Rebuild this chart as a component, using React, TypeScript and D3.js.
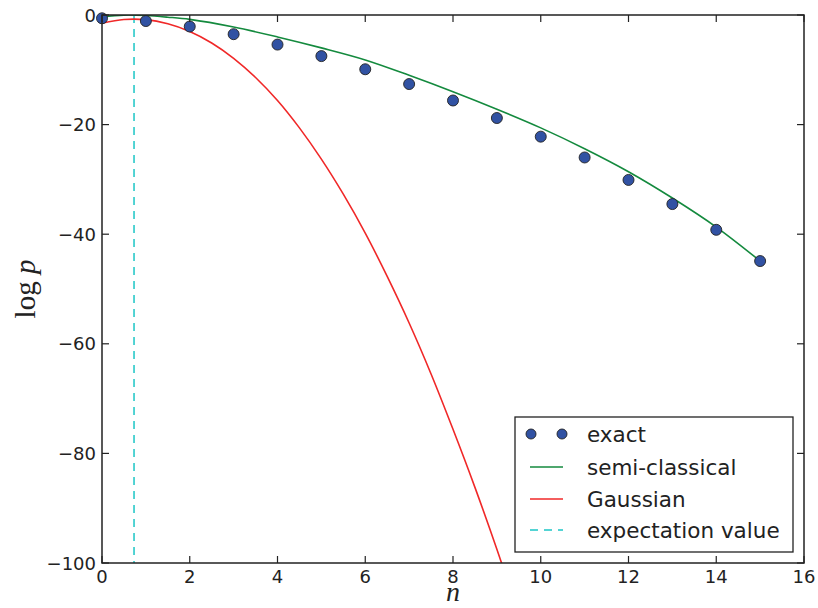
import React from "react";
import * as d3 from "d3";

const exactN = [0, 1, 2, 3, 4, 5, 6, 7, 8, 9, 10, 11, 12, 13, 14, 15];
const exactLogP = [-0.6, -1.1, -2.1, -3.5, -5.4, -7.5, -9.9, -12.6, -15.6, -18.8, -22.2, -26.0, -30.1, -34.5, -39.2, -44.9];

const semiN = [0, 0.5, 1, 1.5, 2, 3, 4, 5, 6, 7, 8, 9, 10, 11, 12, 13, 14, 15];
const semiLogP = [-0.35, -0.02, -0.1, -0.4, -0.8, -2.2, -4.0, -6.0, -8.2, -11.0, -14.0, -17.2, -20.6, -24.4, -28.6, -33.4, -38.7, -44.9];

const gaussN = [0, 0.5, 1, 1.5, 2, 2.5, 3, 3.5, 4, 4.5, 5, 5.5, 6, 6.5, 7, 7.5, 8, 8.5, 9, 9.5];
const gaussLogP = [-1.5, -0.82, -0.85, -1.6, -3.0, -5.1, -7.9, -11.4, -15.6, -20.6, -26.3, -32.7, -39.8, -47.7, -56.2, -65.5, -75.6, -86.2, -97.5, -109.5];

const expectation = 0.73;

const xTicks = [0, 2, 4, 6, 8, 10, 12, 14, 16];
const yTicks = [-100, -80, -60, -40, -20, 0];

const legendLabels = ["exact", "semi-classical", "Gaussian", "expectation value"];

const W = 818;
const H = 608;
const margin = { left: 102, right: 14, top: 15, bottom: 45 };

const C_DOT = "#3152a3";
const C_GREEN = "#148a3e";
const C_RED = "#f02828";
const C_CYAN = "#1cc6c6";
const C_AX = "#222";

export default function App() {
  const x = d3.scaleLinear().domain([0, 16]).range([margin.left, W - margin.right]);
  const y = d3.scaleLinear().domain([-100, 0]).range([H - margin.bottom, margin.top]);

  const line = d3
    .line<[number, number]>()
    .x((d) => x(d[0]))
    .y((d) => y(d[1]))
    .curve(d3.curveCatmullRom.alpha(0.5));

  const semiPath = line(semiN.map((n, i) => [n, semiLogP[i]] as [number, number])) || "";
  const gaussPath = line(gaussN.map((n, i) => [n, gaussLogP[i]] as [number, number])) || "";

  const [x0, x1] = x.range();
  const [yb, yt] = y.range();
  const tickLen = 7;
  const font = "DejaVu Sans";

  // legend box and rows
  const lx = 515, ly = 417, lw = 278, lh = 135;
  const rows = [434, 467, 499, 530];

  return (
    <svg width={W} height={H} style={{ position: "absolute", left: 0, top: 0, background: "#fff" }}>
      <defs>
        <clipPath id="plot">
          <rect x={x0} y={yt} width={x1 - x0} height={yb - yt} />
        </clipPath>
      </defs>
      <g clipPath="url(#plot)">
        <line x1={x(expectation)} x2={x(expectation)} y1={yt} y2={yb} stroke={C_CYAN} strokeWidth={1.5} strokeDasharray="8,6" />
        <path d={gaussPath} fill="none" stroke={C_RED} strokeWidth={1.6} />
        <path d={semiPath} fill="none" stroke={C_GREEN} strokeWidth={1.6} />
      </g>
      {exactN.map((n, i) => (
        <circle key={n} cx={x(n)} cy={y(exactLogP[i])} r={5.5} fill={C_DOT} stroke="#222" strokeWidth={0.9} />
      ))}
      <rect x={x0} y={yt} width={x1 - x0} height={yb - yt} fill="none" stroke={C_AX} strokeWidth={1.5} />
      {xTicks.map((t) => (
        <g key={"x" + t}>
          <line x1={x(t)} x2={x(t)} y1={yb} y2={yb - tickLen} stroke={C_AX} strokeWidth={1.2} />
          <line x1={x(t)} x2={x(t)} y1={yt} y2={yt + tickLen} stroke={C_AX} strokeWidth={1.2} />
          <text x={x(t)} y={yb + 20} textAnchor="middle" fontFamily={font} fontSize={18} fill={C_AX}>
            {t}
          </text>
        </g>
      ))}
      {yTicks.map((t) => (
        <g key={"y" + t}>
          <line x1={x0} x2={x0 + tickLen} y1={y(t)} y2={y(t)} stroke={C_AX} strokeWidth={1.2} />
          <line x1={x1} x2={x1 - tickLen} y1={y(t)} y2={y(t)} stroke={C_AX} strokeWidth={1.2} />
          <text x={x0 - 6} y={y(t) + 6.5} textAnchor="end" fontFamily={font} fontSize={18} fill={C_AX}>
            {t < 0 ? "\u2212" + Math.abs(t) : t}
          </text>
        </g>
      ))}
      <text x={(x0 + x1) / 2} y={601} textAnchor="middle" fontFamily="Liberation Serif, serif" fontStyle="italic" fontSize={28} fill={C_AX}>
        n
      </text>
      <text transform="translate(35,289) rotate(-90)" textAnchor="middle" fontFamily="Liberation Serif, serif" fontSize={29} fill={C_AX}>
        log <tspan fontStyle="italic">p</tspan>
      </text>
      <rect x={lx} y={ly} width={lw} height={lh} fill="#fff" stroke={C_AX} strokeWidth={1.3} />
      <circle cx={531} cy={rows[0]} r={5} fill={C_DOT} stroke="#222" strokeWidth={0.9} />
      <circle cx={562} cy={rows[0]} r={5} fill={C_DOT} stroke="#222" strokeWidth={0.9} />
      <line x1={530} x2={563} y1={rows[1]} y2={rows[1]} stroke={C_GREEN} strokeWidth={1.6} />
      <line x1={530} x2={563} y1={rows[2]} y2={rows[2]} stroke={C_RED} strokeWidth={1.6} />
      <line x1={530} x2={563} y1={rows[3]} y2={rows[3]} stroke={C_CYAN} strokeWidth={1.5} strokeDasharray="8,6" />
      {legendLabels.map((l, i) => (
        <text key={l} x={587} y={rows[i] + 8} fontFamily={font} fontSize={21.5} fill={C_AX}>
          {l}
        </text>
      ))}
    </svg>
  );
}
